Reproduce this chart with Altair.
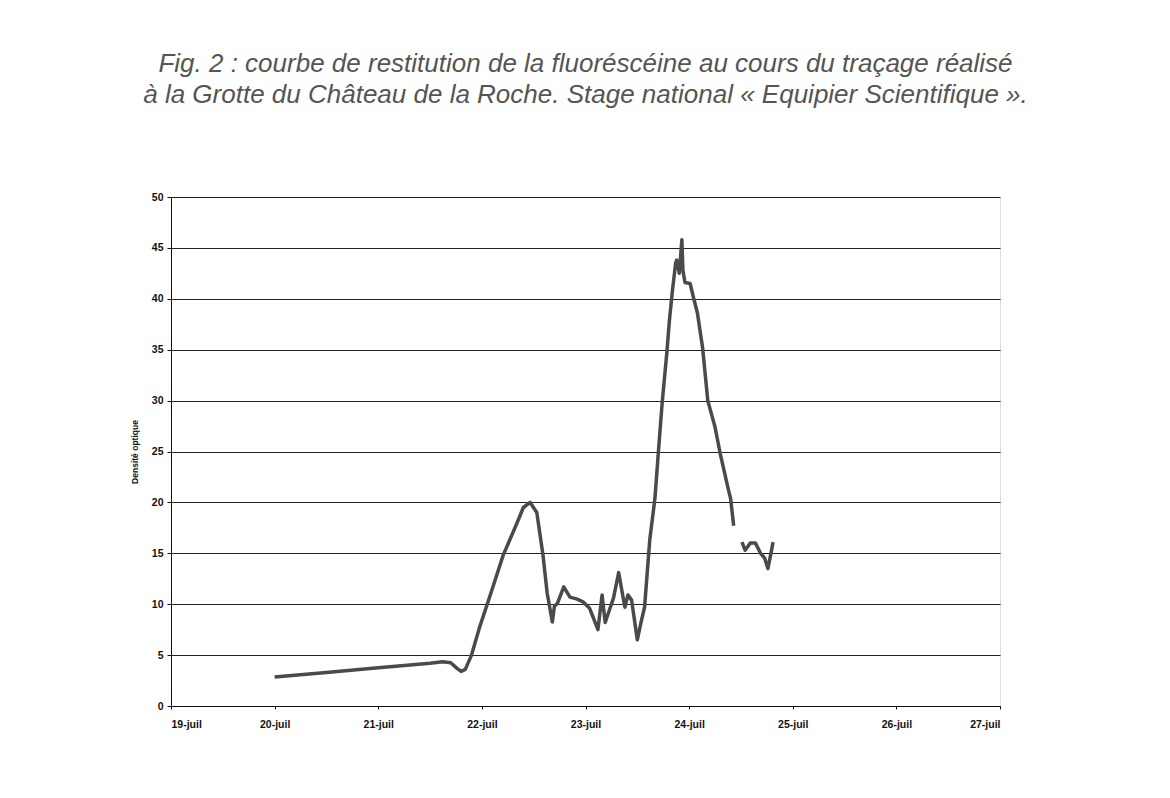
import altair as alt
import pandas as pd

# Day of July (fractional), optical density, segment id (gap in record)
days = [20.00, 20.50, 21.00, 21.50, 21.62, 21.70, 21.76, 21.80, 21.84, 21.90, 21.98, 22.10, 22.205,
        22.34, 22.40, 22.465, 22.53, 22.59, 22.63, 22.68, 22.70, 22.73, 22.79, 22.85, 22.92, 22.98,
        23.04, 23.12, 23.16, 23.19, 23.24, 23.27, 23.32, 23.35, 23.38, 23.41, 23.445, 23.50, 23.54,
        23.57, 23.62, 23.67, 23.70, 23.74, 23.785, 23.81, 23.84, 23.87, 23.88, 23.905, 23.93, 23.94,
        23.96, 24.01, 24.04, 24.08, 24.13, 24.18, 24.25, 24.30, 24.38, 24.40, 24.43,
        24.51, 24.54, 24.59, 24.64, 24.69, 24.73, 24.76, 24.78, 24.81]
density = [2.85, 3.3, 3.75, 4.2, 4.35, 4.25, 3.7, 3.4, 3.6, 5.0, 7.8, 11.5, 14.8,
           18.0, 19.5, 20.0, 19.0, 14.8, 11.1, 8.25, 9.8, 10.1, 11.7, 10.7, 10.5, 10.2,
           9.6, 7.5, 10.9, 8.2, 9.7, 10.6, 13.1, 11.4, 9.7, 10.9, 10.4, 6.5, 8.4,
           9.7, 16.3, 20.4, 24.5, 29.8, 34.7, 37.9, 40.9, 43.5, 43.8, 42.5, 45.8, 42.8,
           41.6, 41.5, 40.2, 38.6, 35.2, 30.0, 27.4, 24.8, 21.2, 20.4, 17.7,
           16.1, 15.3, 16.0, 16.0, 15.0, 14.5, 13.5, 14.5, 16.1]
segment = [1] * 63 + [2] * 9

x_ticks = [19, 20, 21, 22, 23, 24, 25, 26, 27]
y_ticks = [0, 5, 10, 15, 20, 25, 30, 35, 40, 45, 50]
title_lines = ["Fig. 2 : courbe de restitution de la fluoréscéine au cours du traçage réalisé",
               "à la Grotte du Château de la Roche. Stage national « Equipier Scientifique »."]

df = pd.DataFrame({"day": days, "density": density, "seg": segment})

chart = alt.Chart(df).mark_line(color="#4a4a4a", strokeWidth=3.5, strokeJoin="round").encode(
    x=alt.X("day:Q", scale=alt.Scale(domain=[19, 27], nice=False),
            axis=alt.Axis(values=x_ticks, labelExpr="datum.value + '-juil'", title=None,
                          grid=False, tickSize=3, labelFont="Liberation Sans", labelFontWeight="bold",
                          labelFontSize=10.5, labelColor="#111", labelPadding=10, domainColor="#111",
                          tickColor="#111")),
    y=alt.Y("density:Q", scale=alt.Scale(domain=[0, 50], nice=False),
            axis=alt.Axis(values=y_ticks, title="Densité optique", titleFont="Liberation Sans",
                          titleFontSize=8.5, titleFontWeight="bold", titleColor="#111", titlePadding=12,
                          grid=True, gridColor="#222", gridWidth=1, tickSize=4,
                          labelFont="Liberation Sans", labelFontWeight="bold", labelFontSize=10.5,
                          labelColor="#111", labelPadding=4, domainColor="#111", tickColor="#111")),
    detail="seg:N",
).properties(
    width=829, height=509,
    title=alt.Title(title_lines, font="Liberation Sans", fontSize=26, fontStyle="italic",
                    fontWeight="normal", color="#555", anchor="middle", offset=84, lineHeight=31),
    autosize=alt.AutoSizeParams(type="none"),
    padding={"left": 163, "top": 189, "right": 160, "bottom": 80},
).configure_view(stroke="#111", strokeWidth=1).configure(background="white")

chart.save("out.html", embed_options={"renderer": "svg", "actions": False})
